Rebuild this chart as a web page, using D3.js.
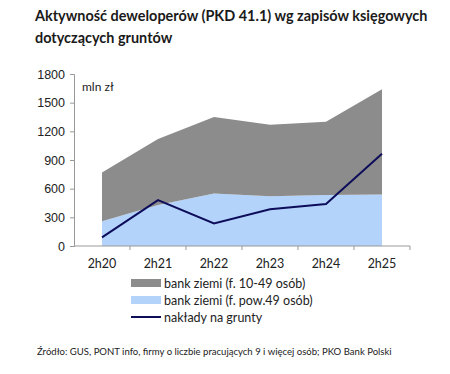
<!DOCTYPE html>
<html>
<head>
<meta charset="utf-8">
<script src="https://cdn.jsdelivr.net/npm/d3@7"></script>
<style>
  body { margin: 0; background: #fff; }
  svg { display: block; font-family: "Lato", "Open Sans", sans-serif; }
</style>
</head>
<body>
<svg id="chart"></svg>
<script>
const categories = ["2h20", "2h21", "2h22", "2h23", "2h24", "2h25"];
// bank ziemi (f. pow.49 osób) - bottom layer
const bankLarge = [260, 430, 550, 520, 535, 540];
// bank ziemi (f. 10-49 osób) - stacked on top
const bankSmall = [510, 690, 800, 750, 765, 1100];
// nakłady na grunty
const outlays = [90, 480, 235, 385, 440, 965];
const yTicks = [0, 300, 600, 900, 1200, 1500, 1800];

const W = 450, H = 374;
const svg = d3.select("#chart").attr("width", W).attr("height", H);

const x0 = 74, x1 = 410, yBottom = 246, yTop = 74;

const x = d3.scaleBand().domain(categories).range([x0, x1]);
const xc = d => x(d) + x.bandwidth() / 2;
const y = d3.scaleLinear().domain([0, 1800]).range([yBottom, yTop]);

const rows = categories.map((c, i) => ({ cat: c, large: bankLarge[i], small: bankSmall[i] }));
const stacked = d3.stack().keys(["large", "small"])(rows);
const colors = { large: "#b3d3fb", small: "#8c8c8c" };

const area = d3.area()
  .x(d => xc(d.data.cat))
  .y0(d => y(d[0]))
  .y1(d => y(d[1]));

svg.selectAll(".layer")
  .data(stacked)
  .join("path")
  .attr("class", "layer")
  .attr("fill", d => colors[d.key])
  .attr("d", area);

svg.append("path")
  .datum(outlays)
  .attr("fill", "none")
  .attr("stroke", "#0d0d5a")
  .attr("stroke-width", 2)
  .attr("d", d3.line().x((d, i) => xc(categories[i])).y(d => y(d)));

// axes
const yAxis = svg.append("g")
  .attr("transform", `translate(${x0},0)`)
  .call(d3.axisLeft(y).tickValues(yTicks).tickFormat(d3.format("d")).tickSize(4).tickPadding(5));
yAxis.select(".domain").attr("stroke", "#999");
yAxis.selectAll(".tick line").attr("stroke", "#999");
yAxis.selectAll("text").attr("font-size", 12.5).attr("fill", "#222");

const xAxis = svg.append("g")
  .attr("transform", `translate(0,${yBottom})`);
xAxis.append("line")
  .attr("x1", x0).attr("x2", x1)
  .attr("stroke", "#999");
xAxis.selectAll(".xt")
  .data(categories)
  .join("line")
  .attr("class", "xt")
  .attr("x1", d => x(d) + x.bandwidth())
  .attr("x2", d => x(d) + x.bandwidth())
  .attr("y1", 0).attr("y2", 4)
  .attr("stroke", "#999");
xAxis.selectAll(".xl")
  .data(categories)
  .join("text")
  .attr("class", "xl")
  .attr("x", d => xc(d))
  .attr("y", 22)
  .attr("text-anchor", "middle")
  .attr("font-size", 12.5)
  .attr("fill", "#222")
  .text(d => d);

svg.append("text")
  .attr("x", 82).attr("y", 91)
  .attr("font-size", 12)
  .attr("fill", "#222")
  .text("mln zł");

// title, sized so the first line spans the same width as the reference
const title = svg.append("text")
  .attr("x", 35).attr("y", 21)
  .attr("font-size", 15.5)
  .attr("font-weight", "bold")
  .attr("fill", "#1a1a1a");
const t1 = title.append("tspan").attr("x", 35).text("Aktywność deweloperów (PKD 41.1) wg zapisów księgowych");
title.append("tspan").attr("x", 35).attr("dy", 22).text("dotyczących gruntów");
const tw = t1.node().getComputedTextLength();
title.attr("font-size", 15.5 * 393 / tw);

// legend
const legendItems = [
  { label: "bank ziemi (f. 10-49 osób)", type: "rect", color: colors.small },
  { label: "bank ziemi (f. pow.49 osób)", type: "rect", color: colors.large },
  { label: "nakłady na grunty", type: "line", color: "#0d0d5a" }
];
const legend = svg.append("g").attr("transform", "translate(131,283)");
legendItems.forEach((it, i) => {
  const g = legend.append("g").attr("transform", `translate(0,${i * 17})`);
  if (it.type === "rect") {
    g.append("rect").attr("x", 0).attr("y", -4).attr("width", 30).attr("height", 8).attr("fill", it.color);
  } else {
    g.append("line").attr("x1", 0).attr("x2", 30).attr("y1", 0).attr("y2", 0)
      .attr("stroke", it.color).attr("stroke-width", 2);
  }
  g.append("text")
    .attr("x", 33).attr("y", 4.5)
    .attr("font-size", 12.5)
    .attr("fill", "#222")
    .text(it.label);
});

const src = svg.append("text")
  .attr("x", 37).attr("y", 355)
  .attr("font-size", 9)
  .attr("fill", "#222")
  .text("Źródło: GUS, PONT info, firmy o liczbie pracujących 9 i więcej osób; PKO Bank Polski");
src.attr("font-size", 9 * 355 / src.node().getComputedTextLength());
</script>
</body>
</html>
